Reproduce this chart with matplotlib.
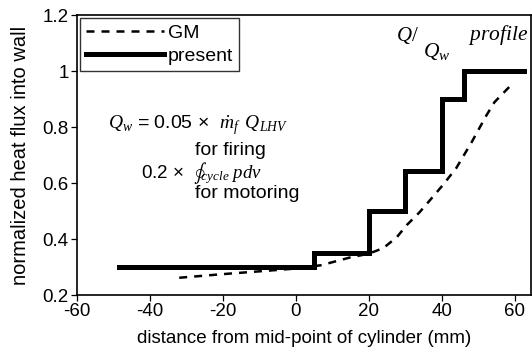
import matplotlib
matplotlib.use('Agg')
from matplotlib import pyplot as plt

plt.rcParams['font.family'] = ['Liberation Sans', 'DejaVu Sans']
plt.rcParams['mathtext.fontset'] = 'custom'
plt.rcParams['mathtext.it'] = 'Liberation Serif:italic'
plt.rcParams['mathtext.rm'] = 'Liberation Serif'
plt.rcParams['mathtext.fallback'] = 'stix'
plt.rcParams['axes.unicode_minus'] = False

# step profile used in the present model
present_x = [-48.5, 5, 20, 30, 40, 46, 62.7]
present_y = [0.30, 0.35, 0.50, 0.645, 0.90, 1.00, 1.00]

# GM profile (dashed)
gm_x = [-32, -20, -10, 0, 7, 15, 20, 24, 27.7, 30.4, 34, 37.5, 40.3, 44, 48.2, 52.3, 54.5, 59.5]
gm_y = [0.262, 0.275, 0.285, 0.295, 0.307, 0.335, 0.348, 0.368, 0.407, 0.45, 0.497, 0.55, 0.593, 0.654, 0.746, 0.843, 0.89, 0.957]

x_ticks = [-60, -40, -20, 0, 20, 40, 60]
y_ticks = [0.2, 0.4, 0.6, 0.8, 1.0, 1.2]
y_labels = ['0.2', '0.4', '0.6', '0.8', '1', '1.2']


def plot():
    fig = plt.figure(figsize=(5.32, 3.59), dpi=100)
    ax = fig.add_axes([0.145, 0.178, 0.853, 0.779])

    ax.plot(gm_x, gm_y, color='black', lw=1.8, dashes=(3.2, 2.8), label='GM')
    ax.step(present_x, present_y, where='post', color='black', lw=3.6,
            solid_joinstyle='miter', label='present')

    ax.set_xlim(-60, 64.5)
    ax.set_ylim(0.2, 1.2)
    ax.set_xticks(x_ticks)
    ax.set_yticks(y_ticks)
    ax.set_yticklabels(y_labels)
    ax.tick_params(direction='out', length=4, labelsize=13.5, width=0.9, pad=2)
    for s in ax.spines.values():
        s.set_linewidth(1.2)

    ax.set_xlabel('distance from mid-point of cylinder (mm)', fontsize=13.5, labelpad=7)
    ax.set_ylabel('normalized heat flux into wall', fontsize=14.5, labelpad=9)

    leg = ax.legend(loc='upper left', fontsize=14, frameon=True, fancybox=False,
                    handlelength=4.0, handletextpad=0.2, borderpad=0.3,
                    labelspacing=0.3, borderaxespad=0.15)
    leg.get_frame().set_edgecolor('black')
    leg.get_frame().set_linewidth(1.0)

    # profile title in the top right corner
    ax.text(27.5, 1.129, r'$Q/$', fontsize=15, ha='left', va='center')
    ax.text(34.8, 1.072, r'$Q_w$', fontsize=15.5, ha='left', va='center')
    ax.text(63.7, 1.129, r'$profile$', fontsize=15.5, ha='right', va='center')

    # formula text
    ax.text(-51.5, 0.807, r'$Q_w$ = 0.05 ×  $\dot{m}_f\ \,Q_{LHV}$', fontsize=14, ha='left', va='center')
    ax.text(-27.7, 0.718, 'for firing', fontsize=14, ha='left', va='center')
    ax.text(-42.5, 0.636, r'0.2 ×  $\oint\!{}_{cycle}\ pdv$', fontsize=13.5, ha='left', va='center')
    ax.text(-27.7, 0.565, 'for motoring', fontsize=14, ha='left', va='center')

    return fig


fig = plot()
fig.savefig('out.png', dpi=100)
